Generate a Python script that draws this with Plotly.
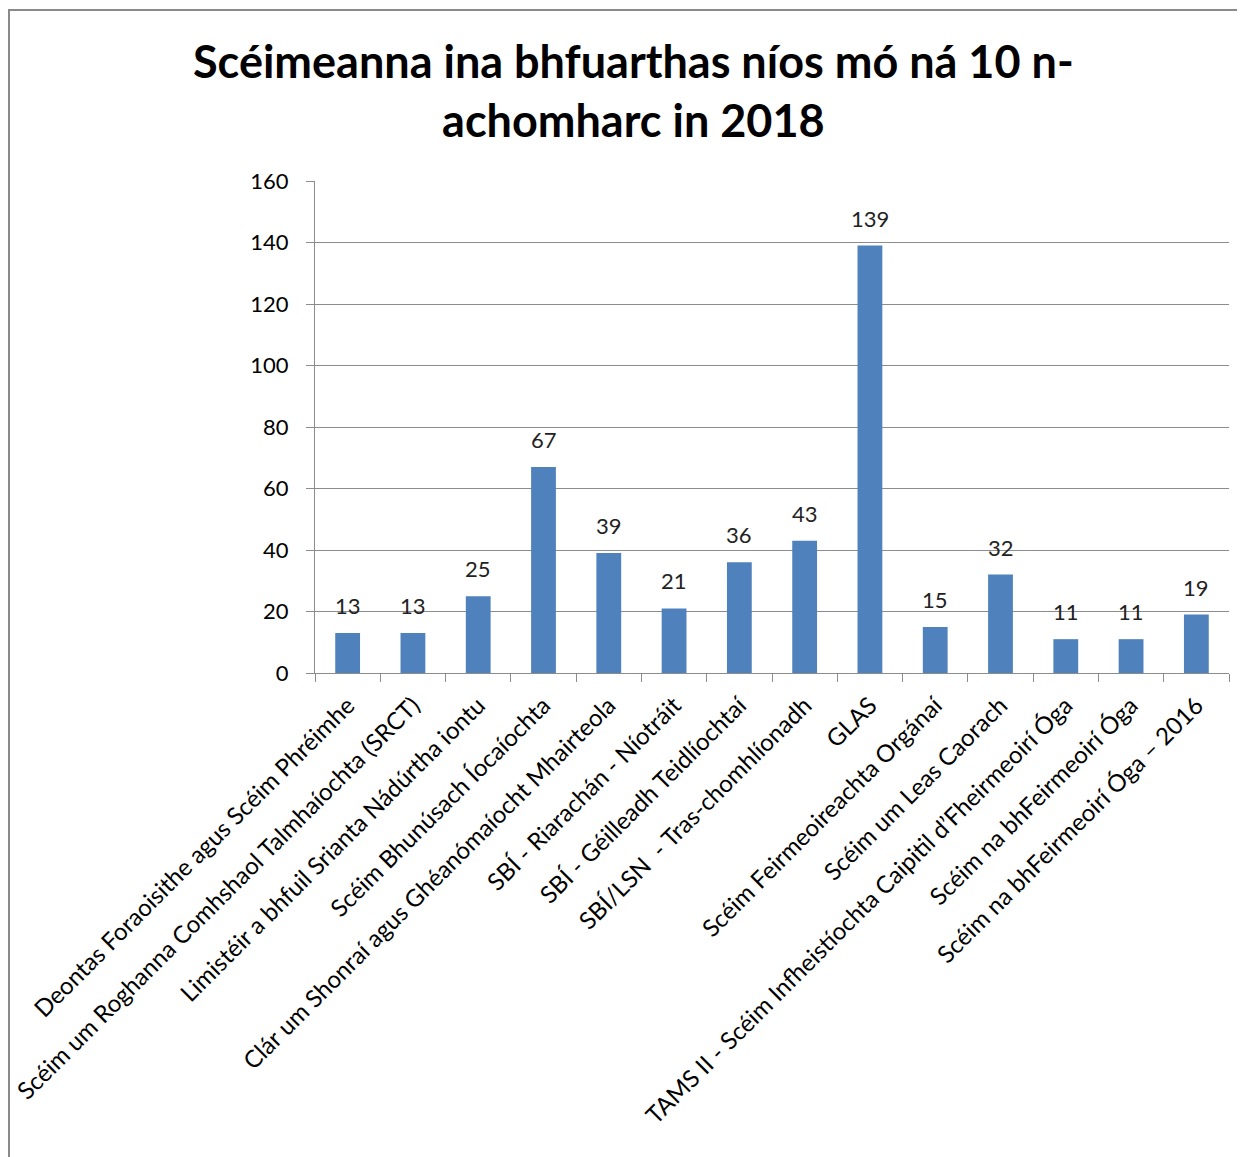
import plotly.graph_objects as go

categories = [
    "Deontas Foraoisithe agus Scéim Phréimhe",
    "Scéim um Roghanna Comhshaol Talmhaíochta (SRCT)",
    "Limistéir a bhfuil Srianta Nádúrtha iontu",
    "Scéim Bhunúsach Íocaíochta",
    "Clár um Shonraí agus Ghéanómaíocht Mhairteola",
    "SBÍ - Riarachán - Níotráit",
    "SBÍ - Géilleadh Teidlíochtaí",
    "SBÍ/LSN  - Tras-chomhlíonadh",
    "GLAS",
    "Scéim Feirmeoireachta Orgánaí",
    "Scéim um Leas Caorach",
    "TAMS II - Scéim Infheistíochta Caipitil d\u2019Fheirmeoirí Óga",
    "Scéim na bhFeirmeoirí Óga",
    "Scéim na bhFeirmeoirí Óga \u2013 2016",
]
values = [13, 13, 25, 67, 39, 21, 36, 43, 139, 15, 32, 11, 11, 19]
y_ticks = [0, 20, 40, 60, 80, 100, 120, 140, 160]
title_text = "Scéimeanna ina bhfuarthas níos mó ná 10 n-<br>achomharc in 2018"

# page has an 8px body offset; layout numbers below are in figure pixels
W, H = 1245, 1157
L, T = 307, 173
pw, ph = 914, 492
R = W - L - pw
B = H - T - ph

FONT = "Lato"
GRID = "#8c8c8c"


def px_x(x):
    return (x - L) / pw


def px_y(y):
    return (T + ph - y) / ph


fig = go.Figure(
    go.Bar(
        x=categories,
        y=values,
        marker=dict(color="#4F81BD", line=dict(width=0)),
        hoverinfo="x+y",
    )
)

for c, v in zip(categories, values):
    fig.add_annotation(
        x=c,
        y=v,
        xref="x",
        yref="y",
        text=str(v),
        showarrow=False,
        yanchor="bottom",
        yshift=12,
        font=dict(family=FONT, size=22, color="#222222"),
    )

fig.add_annotation(
    xref="paper",
    yref="paper",
    x=px_x(625),
    y=px_y(24),
    xanchor="center",
    yanchor="top",
    text=title_text,
    showarrow=False,
    align="center",
    font=dict(family=FONT, size=45, color="#000000", weight="bold"),
)

fig.update_layout(
    width=W,
    height=H,
    margin=dict(l=L, r=R, t=T, b=B, pad=0),
    paper_bgcolor="white",
    plot_bgcolor="white",
    bargap=0.62,
    showlegend=False,
)

fig.update_xaxes(
    type="category",
    tickangle=-45,
    tickfont=dict(family=FONT, size=24, color="#000000"),
    ticklabelstandoff=8,
    showline=True,
    linecolor=GRID,
    linewidth=1,
    ticks="outside",
    tickson="boundaries",
    ticklen=8,
    tickcolor=GRID,
    showgrid=False,
    automargin=False,
)
fig.update_yaxes(
    range=[0, 160],
    tickvals=y_ticks,
    tickfont=dict(family=FONT, size=22, color="#000000"),
    ticklabelstandoff=13,
    showgrid=True,
    gridcolor=GRID,
    gridwidth=1,
    showline=True,
    linecolor=GRID,
    linewidth=1,
    ticks="outside",
    ticklen=8,
    tickcolor=GRID,
    zeroline=False,
    automargin=False,
)

# outer chart frame (Excel-style chart area border)
fig.add_shape(
    type="rect",
    xref="paper",
    yref="paper",
    x0=px_x(1),
    x1=px_x(W + 20),
    y0=px_y(H + 20),
    y1=px_y(2),
    line=dict(color="#8a8a8a", width=2),
    fillcolor="rgba(0,0,0,0)",
    layer="below",
)

fig.write_html("out.html")
